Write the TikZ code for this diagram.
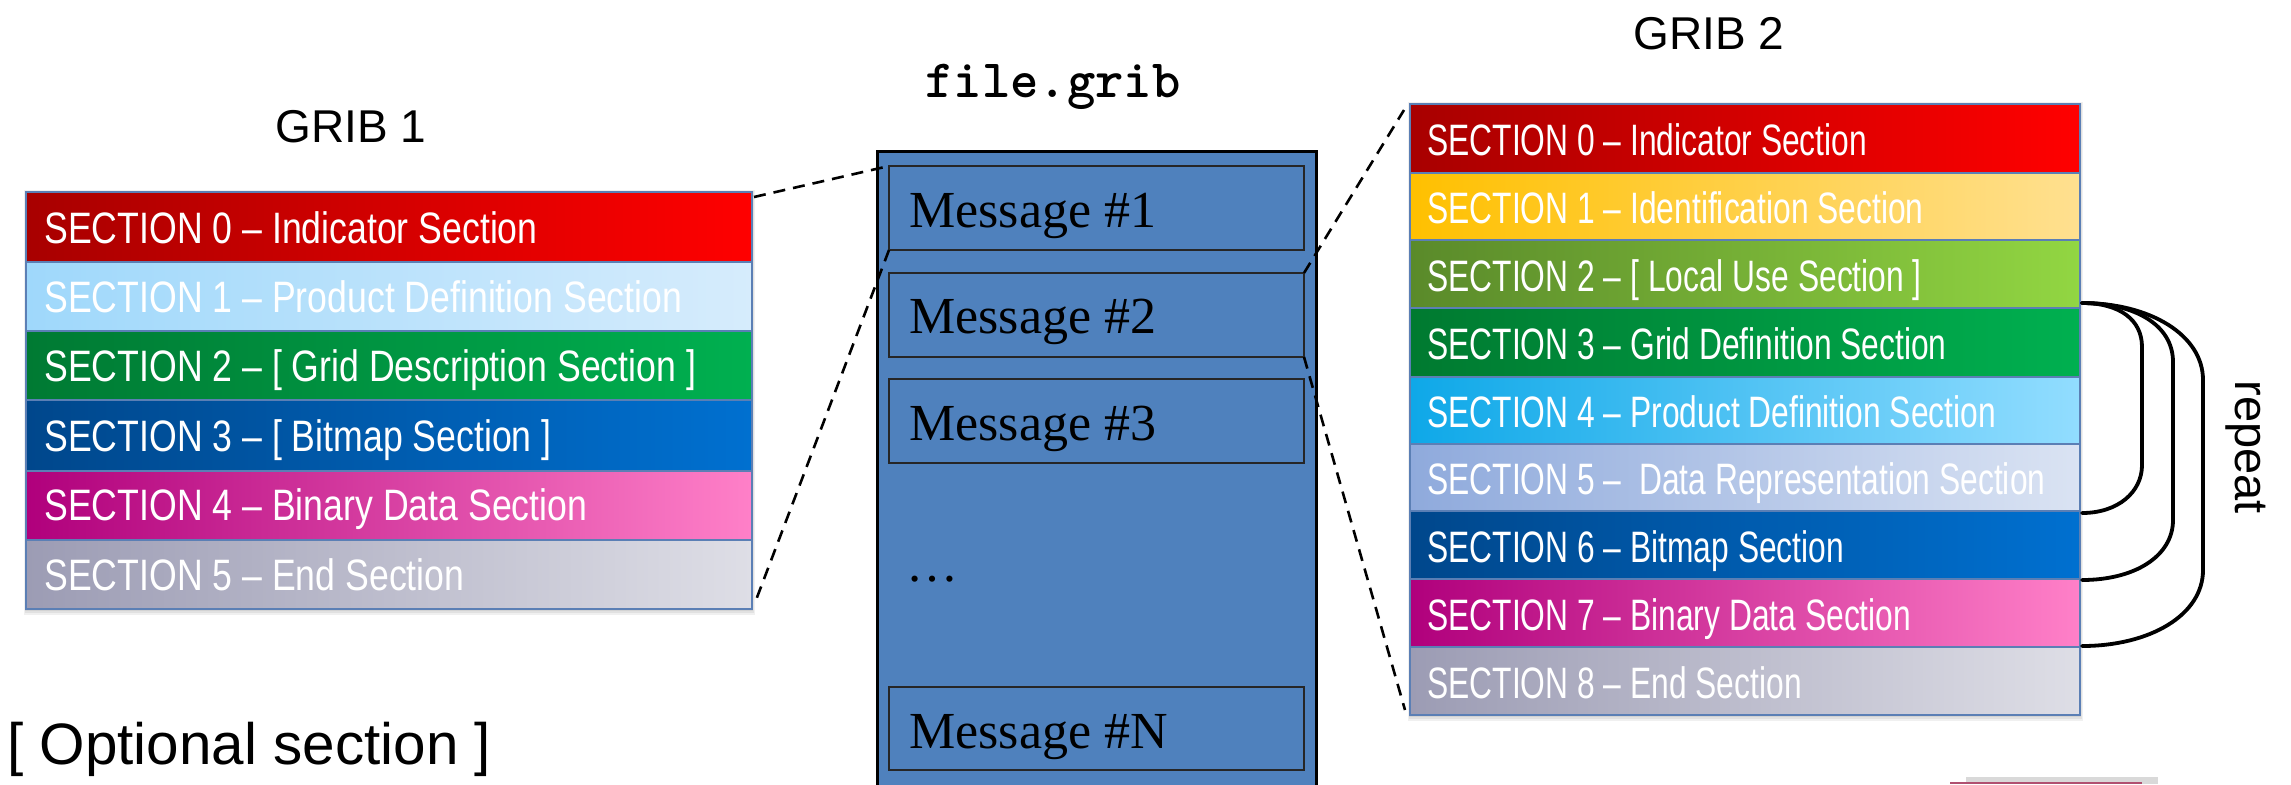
\documentclass[tikz,border=0pt]{standalone}
\usepackage{fontspec}
\setmainfont{Liberation Serif}
\setsansfont{Liberation Sans}
\newfontfamily\secfontL[FakeStretch=0.81]{Liberation Sans}
\newfontfamily\secfontR[FakeStretch=0.722]{Liberation Sans}
\usetikzlibrary{calc}
\definecolor{frameblue}{HTML}{4F81BD}
\definecolor{rowedge}{HTML}{5B7FB5}
\definecolor{croppedbox}{HTML}{B05070}
\tikzset{
  x=0.5pt,y=-0.5pt,
  rowbox/.style={draw=rowedge,line width=1.2pt,inner sep=0pt,outer sep=0pt,rectangle},
  sectextL/.style={anchor=base west,inner sep=0pt,text=white,font=\secfontL\fontsize{22}{26}\selectfont},
  sectextR/.style={anchor=base west,inner sep=0pt,text=white,font=\secfontR\fontsize{22}{26}\selectfont},
  msgbox/.style={draw=black!85,line width=0.55pt,inner sep=0pt,outer sep=0pt,rectangle,fill=frameblue},
  msgtext/.style={anchor=base west,inner sep=0pt,text=black,font=\rmfamily\fontsize{26}{30}\selectfont},
  title/.style={anchor=base west,inner sep=0pt,text=black,font=\sffamily\fontsize{23}{27}\selectfont},
  zoomdash/.style={draw=black,line width=1.3pt,dash pattern=on 6pt off 4pt},
  repeatcurve/.style={draw=black,line width=1.9pt,line cap=round},
  softshadow/.style={fill=black,opacity=0.06,draw=none},
}
% name, x1, y1, x2, y2, left colour, mid colour, right colour
\newcommand\secrow[8]{%
  \definecolor{rowL}{HTML}{#6}\definecolor{rowM}{HTML}{#7}\definecolor{rowR}{HTML}{#8}%
  \node[rowbox,left color=rowL,middle color=rowM,right color=rowR,
        minimum width={(#4-#2)*0.5},minimum height={(#5-#3)*0.5}]
        (#1) at ({(#2+#4)/2},{(#3+#5)/2}) {};}
\begin{document}
\begin{tikzpicture}
\useasboundingbox (0,0) rectangle (2291,784);
\clip (0,0) rectangle (2291,784);
\fill[white] (0,0) rectangle (2291,784);

% shadows of the two stacks
\foreach \d in {2,4,6}{
  \path[softshadow] ({26-\d/3},{192-\d/3}) rectangle ({752+\d/2},{609+\d});
  \path[softshadow] ({1410-\d/3},{104-\d/3}) rectangle ({2080+\d/2},{715+\d});
}

% GRIB 1 stack
\secrow{la}{26}{192}{752}{262}{A80000}{E80000}{FF0000}
\secrow{lb}{26}{262}{752}{331}{9FD8FB}{BCE1FB}{D6ECFC}
\secrow{lc}{26}{331}{752}{400}{007A33}{009A42}{00B050}
\secrow{ld}{26}{400}{752}{471}{00478C}{005FB0}{0070D0}
\secrow{le}{26}{471}{752}{540}{B0007C}{E04FA8}{FF80C8}
\secrow{lf}{26}{540}{752}{609}{9C9CB4}{C8C8D4}{DEDEE6}

\node[sectextL] (lta) at (44,243) {SECTION 0 – Indicator  Section};
\node[sectextL] (ltb) at (44,312) {SECTION 1 – Product Definition Section};
\node[sectextL] (ltc) at (44,381) {SECTION 2 – [ Grid Description Section ]};
\node[sectextL] (ltd) at (44,451) {SECTION 3 – [ Bitmap Section ]};
\node[sectextL] (lte) at (44,520) {SECTION 4 – Binary Data Section};
\node[sectextL] (ltf) at (44,590) {SECTION 5 – End Section};

% GRIB 2 stack
\secrow{ra}{1410}{104}{2080}{173}{A80000}{E80000}{FF0000}
\secrow{rb}{1410}{173}{2080}{240}{FFC000}{FDD060}{FFE090}
\secrow{rc}{1410}{240}{2080}{308}{5A8A2A}{78B038}{92D642}
\secrow{rd}{1410}{308}{2080}{377}{007A30}{009A42}{00B050}
\secrow{re}{1410}{377}{2080}{444}{0EA8E8}{50C4F4}{92DDFF}
\secrow{rf}{1410}{444}{2080}{511}{8FAADC}{B8C8E8}{DAE3F3}
\secrow{rg}{1410}{511}{2080}{579}{00478C}{005FB0}{0070D0}
\secrow{rh}{1410}{579}{2080}{647}{B0007C}{E04FA8}{FF80C8}
\secrow{ri}{1410}{647}{2080}{715}{9C9CB4}{C8C8D4}{DEDEE6}

\node[sectextR] (rta) at (1427,155) {SECTION 0 – Indicator  Section};
\node[sectextR] (rtb) at (1427,223) {SECTION 1 – Identification  Section};
\node[sectextR] (rtc) at (1427,291) {SECTION 2 – [ Local Use Section ]};
\node[sectextR] (rtd) at (1427,359) {SECTION 3 – Grid Definition  Section};
\node[sectextR] (rte) at (1427,427) {SECTION 4 – Product Definition  Section};
\node[sectextR] (rtf) at (1427,494) {SECTION 5 –\ \ Data Representation  Section};
\node[sectextR] (rtg) at (1427,562) {SECTION 6 – Bitmap Section};
\node[sectextR] (rth) at (1427,630) {SECTION 7 – Binary Data Section};
\node[sectextR] (rti) at (1427,698) {SECTION 8 – End Section};

% file frame and messages
\node[draw=black,line width=1.5pt,fill=frameblue,inner sep=0pt,outer sep=0pt,rectangle,
      minimum width={(1316-877)*0.5},minimum height={(820-151)*0.5}]
      (frame) at ({(877+1316)/2},{(151+820)/2}) {};
\node[msgbox,minimum width={(1304-889)*0.5},minimum height={84*0.5}] (m1) at ({(889+1304)/2},208) {};
\node[msgbox,minimum width={(1304-889)*0.5},minimum height={84*0.5}] (m2) at ({(889+1304)/2},315) {};
\node[msgbox,minimum width={(1304-889)*0.5},minimum height={84*0.5}] (m3) at ({(889+1304)/2},421) {};
\node[msgbox,minimum width={(1304-889)*0.5},minimum height={83*0.5}] (mn) at ({(889+1304)/2},728.5) {};

\node[msgtext] (t1) at (909,227) {Message \#1};
\node[msgtext] (t2) at (909,333) {Message \#2};
\node[msgtext] (t3) at (909,440) {Message \#3};
\node[msgtext] (td) at (906,581) {…};
\node[msgtext] (tn) at (909,748) {Message \#N};

% titles
\node[title] (g1) at (275,142) {GRIB 1};
\node[title] (g2) at (1633,49) {GRIB 2};
\node[anchor=base west,inner sep=0pt,font=\ttfamily\bfseries\fontsize{27}{30}\selectfont] (fn) at (925,97) {file.grib};
\node[title,font=\sffamily\fontsize{29.2}{33}\selectfont] (opt) at (7,764) {[ Optional section ]};
\node[anchor=base west,inner sep=0pt,rotate=-90,font=\sffamily\fontsize{23.5}{27}\selectfont] (rep) at (2235,380) {repeat};

% zoom lines
\coordinate (la-ne) at (754,197);
\coordinate (lf-se) at (756,600);
\coordinate (ra-nw) at (1404,110);
\coordinate (ri-sw) at (1405,710);
\draw[zoomdash] (la-ne) -- (m1.north west);
\draw[zoomdash] (m1.south west) -- (lf-se);
\draw[zoomdash] (m2.north east) -- (ra-nw);
\draw[zoomdash] (m2.south east) -- (ri-sw);

% repeat brackets
\coordinate (rs) at (2082,303);
\coordinate (e1) at (2082,513);
\coordinate (e2) at (2082,580);
\coordinate (e3) at (2082,646);
\draw[repeatcurve] (rs) .. controls (2120,303) and (2142,320) .. (2142,347) -- (2142,465)
   .. controls (2142,492) and (2118,513) .. (e1);
\draw[repeatcurve] (rs) .. controls (2135,303) and (2173,325) .. (2173,362) -- (2173,520)
   .. controls (2173,556) and (2135,580) .. (e2);
\draw[repeatcurve] (rs) .. controls (2150,303) and (2203,335) .. (2203,380) -- (2203,570)
   .. controls (2203,615) and (2150,646) .. (e3);

% cropped box at the lower edge
\path[softshadow,opacity=0.15] (1966,777) rectangle (2158,784);
\fill[croppedbox] (1950,781.5) rectangle (2142,784);
\end{tikzpicture}
\end{document}
